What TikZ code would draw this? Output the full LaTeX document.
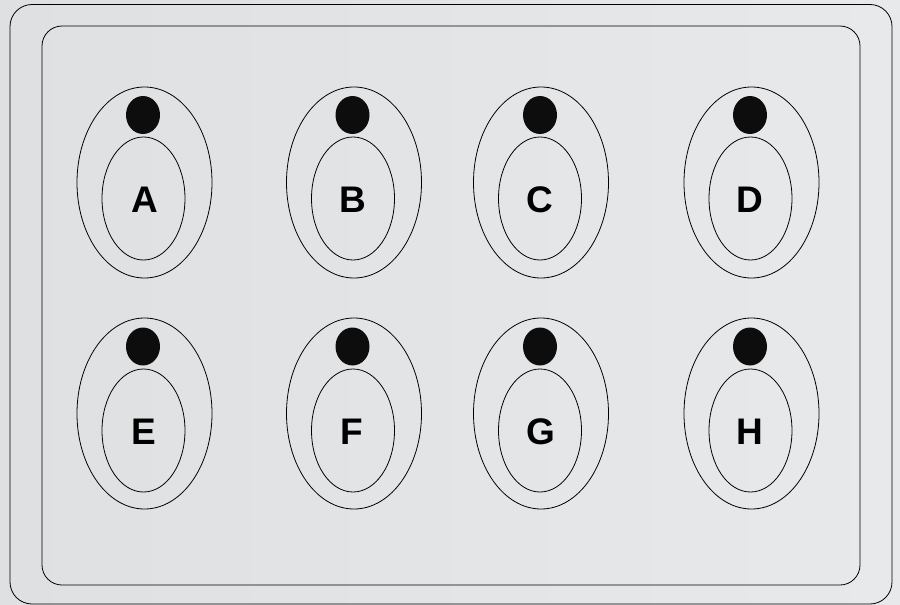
\documentclass[tikz,border=0pt]{standalone}
\usepackage{fontspec}
\setmainfont{Liberation Sans}
\usetikzlibrary{shapes,positioning}

\definecolor{bgdark}{RGB}{223,224,226}
\definecolor{bglight}{RGB}{232,233,235}

\tikzset{
  outer/.style={draw,ellipse,line width=0.8pt,minimum width=135pt,minimum height=191pt,inner sep=0pt},
  inner/.style={draw,ellipse,line width=0.8pt,minimum width=83pt,minimum height=123pt,inner sep=0pt},
  dot/.style={ellipse,fill=black!95,minimum width=34pt,minimum height=38pt,inner sep=0pt},
  letter/.style={font=\fontsize{37}{37}\selectfont\bfseries,inner sep=0pt}
}

\begin{document}
\begin{tikzpicture}[x=1pt,y=-1pt]
\useasboundingbox (0,0) rectangle (900,605);
\shade[left color=bgdark,right color=bglight] (0,0) rectangle (900,605);
\draw[line width=0.8pt,rounded corners=22pt] (10,4.5) rectangle (892,604);
\draw[line width=0.8pt,rounded corners=20pt] (42,26) rectangle (860,585);

% top row
\node[outer] (oA) at (144.5,182.5) {};
\node[inner] (iA) at (143.5,198.5) {};
\node[dot] (dA) at (143,115) {};
\node[letter] (A) at (144.5,200) {A};

\node[outer] (oB) at (354,182.5) {};
\node[inner] (iB) at (353,198.5) {};
\node[dot] (dB) at (352.5,115) {};
\node[letter] (B) at (353,200) {B};

\node[outer] (oC) at (541,182.5) {};
\node[inner] (iC) at (540,198.5) {};
\node[dot] (dC) at (540,115) {};
\node[letter] (C) at (540,200) {C};

\node[outer] (oD) at (751.5,182.5) {};
\node[inner] (iD) at (750.5,198.5) {};
\node[dot] (dD) at (750,115) {};
\node[letter] (D) at (750,200) {D};

% bottom row
\node[outer] (oE) at (144.5,413.5) {};
\node[inner] (iE) at (143.5,430.5) {};
\node[dot] (dE) at (143,346.5) {};
\node[letter] (E) at (144,432) {E};

\node[outer] (oF) at (354,413.5) {};
\node[inner] (iF) at (353,430.5) {};
\node[dot] (dF) at (352.5,346.5) {};
\node[letter] (F) at (352,432) {F};

\node[outer] (oG) at (541,413.5) {};
\node[inner] (iG) at (540,430.5) {};
\node[dot] (dG) at (540,346.5) {};
\node[letter] (G) at (541,432) {G};

\node[outer] (oH) at (751.5,413.5) {};
\node[inner] (iH) at (750.5,430.5) {};
\node[dot] (dH) at (750,346.5) {};
\node[letter] (H) at (750,432) {H};
\end{tikzpicture}
\end{document}
